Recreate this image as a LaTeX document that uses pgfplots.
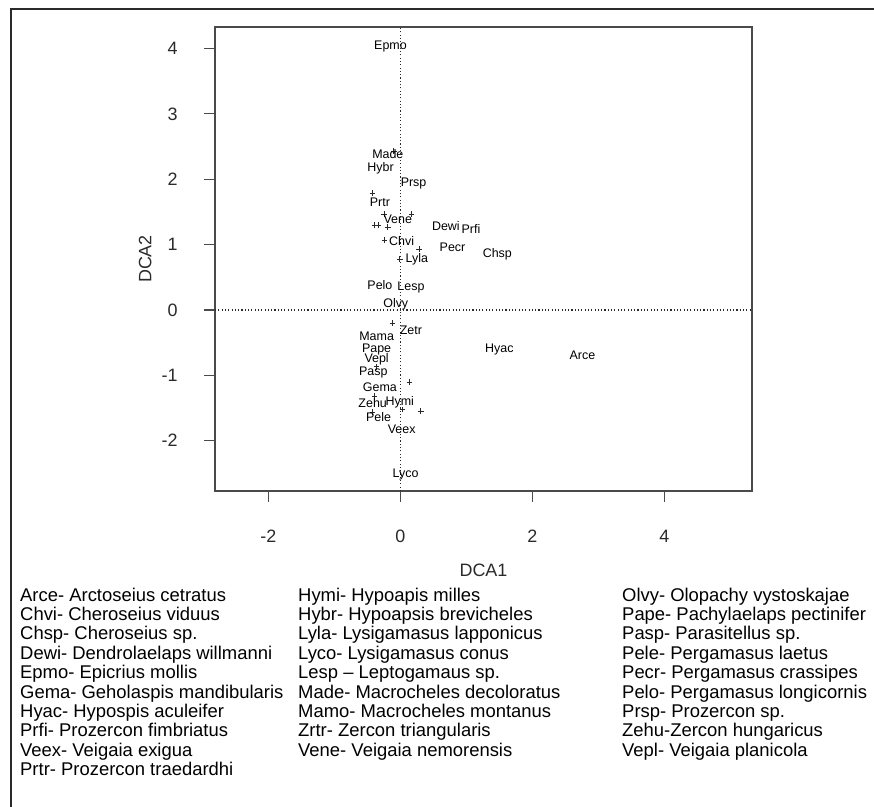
\documentclass[border=0pt]{standalone}
\usepackage{fontspec}
\setmainfont{Liberation Sans}
\usepackage{pgfplots}
\pgfplotsset{compat=1.18}
\definecolor{ink}{HTML}{2A2A2A}
\begin{document}
\begin{tikzpicture}
\path[use as bounding box] (0,0) rectangle (874bp,-807bp);
\draw[line width=2.2bp, ink] (11bp,-807bp) -- (11bp,-9bp) -- (874bp,-9bp);
\begin{axis}[
 at={(215bp,-491bp)}, anchor=south west, scale only axis,
 width=537bp, height=464bp,
 xmin=-2.81, xmax=5.33, ymin=-2.77, ymax=4.33,
 axis line style={ink!85, line width=1.3bp},
 xtick={-2,0,2,4}, ytick={-2,-1,0,1,2,3,4},
 tick align=outside, xtick pos=bottom, ytick pos=left,
 major tick length=11bp,
 tick style={ink!85, line width=1.1bp},
 /pgf/number format/assume math mode=true,
 ticklabel style={font=\fontsize{18}{18}\selectfont, text=ink},
 xticklabel style={anchor=center, yshift=-34bp},
 yticklabel style={anchor=east, xshift=-23bp},
 xlabel={DCA1}, ylabel={DCA2},
 label style={font=\fontsize{18}{18}\selectfont, text=ink},
 xlabel style={at={(axis description cs:0.5,-0.172)}, anchor=center},
 ylabel style={at={(axis description cs:-0.130,0.5)}, anchor=center, rotate=0},
 clip=true,
]
\addplot[ink, line width=1.1bp, dash pattern=on 1.1bp off 2.2bp] coordinates {(0,-2.77) (0,4.33)};
\addplot[ink, line width=1.1bp, dash pattern=on 1.1bp off 2.2bp] coordinates {(-2.81,0) (5.33,0)};
\addplot[only marks, mark=+, mark size=2.8bp, ink, mark options={line width=0.7bp}] coordinates {
(-0.42,1.79) (-0.25,1.47) (0.17,1.47) (-0.39,1.30) (-0.33,1.30) (-0.19,1.27)
(-0.24,1.07) (0.28,0.93) (-0.01,0.78) (-0.12,-0.20) (-0.36,-0.87) (0.14,-1.10)
(-0.39,-1.32) (0.03,-1.52) (0.31,-1.55) (-0.42,-1.56) (-0.10,2.43)
};
\addplot[draw=none, mark=none, nodes near coords, point meta=explicit symbolic,
  every node near coord/.append style={anchor=center, inner sep=0pt, font=\fontsize{12.5}{12.5}\selectfont, text=black}]
 table[meta=label] {
x y label
-0.15 4.03 Epmo
-0.19 2.39 Made
-0.30 2.17 Hybr
0.20 1.93 Prsp
-0.31 1.65 Prtr
-0.04 1.39 Vene
0.69 1.29 Dewi
1.07 1.24 Prfi
0.02 1.06 Chvi
0.79 0.96 Pecr
1.47 0.86 Chsp
0.25 0.78 Lyla
-0.31 0.38 Pelo
0.16 0.34 Lesp
-0.07 0.09 Olvy
0.16 -0.31 Zetr
-0.36 -0.40 Mama
-0.36 -0.60 Pape
-0.36 -0.75 Vepl
1.50 -0.61 Hyac
2.76 -0.69 Arce
-0.41 -0.96 Pasp
-0.31 -1.18 Gema
-0.42 -1.42 Zehu
-0.01 -1.41 Hymi
-0.33 -1.64 Pele
0.02 -1.82 Veex
0.08 -2.51 Lyco
};
\end{axis}
\begin{scope}[every node/.style={anchor=base west, inner sep=0pt, font=\fontsize{18.5}{18.5}\selectfont, text=black}]
\foreach \t [count=\i from 0] in {{Arce- Arctoseius cetratus},{Chvi- Cheroseius viduus},{Chsp- Cheroseius sp.},{Dewi- Dendrolaelaps willmanni},{Epmo- Epicrius mollis},{Gema- Geholaspis mandibularis},{Hyac- Hypospis aculeifer},{Prfi- Prozercon fimbriatus},{Veex- Veigaia exigua},{Prtr- Prozercon traedardhi}}
  \node at (20bp,{-601bp-19.4bp*\i}) {\t};
\foreach \t [count=\i from 0] in {{Hymi- Hypoapis milles},{Hybr- Hypoapsis brevicheles},{Lyla- Lysigamasus lapponicus},{Lyco- Lysigamasus conus},{Lesp – Leptogamaus sp.},{Made- Macrocheles decoloratus},{Mamo- Macrocheles montanus},{Zrtr- Zercon triangularis},{Vene- Veigaia nemorensis}}
  \node at (298bp,{-601bp-19.4bp*\i}) {\t};
\foreach \t [count=\i from 0] in {{Olvy- Olopachy vystoskajae},{Pape- Pachylaelaps pectinifer},{Pasp- Parasitellus sp.},{Pele- Pergamasus laetus},{Pecr- Pergamasus crassipes},{Pelo- Pergamasus longicornis},{Prsp- Prozercon sp.},{Zehu-Zercon hungaricus},{Vepl- Veigaia planicola}}
  \node at (622bp,{-601bp-19.4bp*\i}) {\t};
\end{scope}
\end{tikzpicture}
\end{document}
